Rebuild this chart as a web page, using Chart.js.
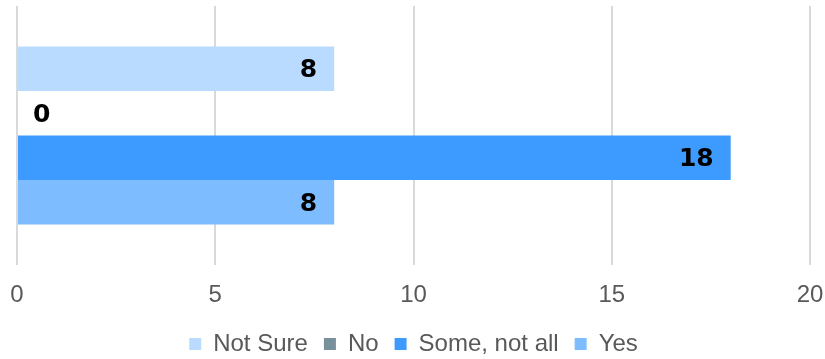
<!DOCTYPE html>
<html>
<head>
<meta charset="utf-8">
<script src="https://cdn.jsdelivr.net/npm/chart.js@4/dist/chart.umd.min.js"></script>
<style>
  html, body { margin: 0; padding: 0; background: #fff; }
  #wrap { width: 825px; height: 359px; position: relative; }
</style>
</head>
<body>
<div id="wrap"><canvas id="chart"></canvas></div>
<script>
const categories = ['Responses'];
const seriesNames = ['Not Sure', 'No', 'Some, not all', 'Yes'];
const notSure = [8];
const no = [0];
const someNotAll = [18];
const yes = [8];
const colors = ['#B8DBFF', '#78909C', '#3D9BFF', '#7DBDFF'];
const xTicks = [0, 5, 10, 15, 20];

// etiquettes de valeur au bout des barres
const valueLabels = {
    id: 'valueLabels',
    afterDatasetsDraw(chart) {
        const ctx = chart.ctx;
        ctx.save();
        ctx.font = 'bold 25px "DejaVu Sans"';
        ctx.fillStyle = '#000';
        ctx.textBaseline = 'middle';
        chart.data.datasets.forEach((ds, i) => {
            chart.getDatasetMeta(i).data.forEach((bar, j) => {
                const v = ds.data[j];
                if (v === 0) {
                    ctx.textAlign = 'left';
                    ctx.fillText(v, bar.base + 16, bar.y + 2);
                } else {
                    ctx.textAlign = 'right';
                    ctx.fillText(v, bar.x - 17, bar.y + 2);
                }
            });
        });
        ctx.restore();
    }
};

const seriesData = [notSure, no, someNotAll, yes];

new Chart(document.getElementById('chart'), {
    type: 'bar',
    data: {
        labels: categories,
        datasets: seriesNames.map((name, i) => ({
            label: name,
            data: seriesData[i],
            backgroundColor: colors[i],
            borderWidth: 0,
            inflateAmount: 0
        }))
    },
    options: {
        indexAxis: 'y',
        responsive: true,
        maintainAspectRatio: false,
        animation: false,
        layout: { padding: { left: 17, right: 15, top: 6, bottom: -7 } },
        datasets: { bar: { barThickness: 44.5 } },
        scales: {
            x: {
                min: 0,
                max: 20,
                afterBuildTicks: axis => { axis.ticks = xTicks.map(v => ({ value: v })); },
                afterFit: axis => {
                    axis.paddingLeft = 0;
                    axis.paddingRight = 0;
                    axis.height = 51;
                },
                grid: { color: '#D9D9D9', lineWidth: 2, drawTicks: false },
                border: { display: false },
                ticks: {
                    color: '#595959',
                    padding: 16,
                    maxRotation: 0,
                    font: { family: '"Liberation Sans", Arial', size: 24 }
                }
            },
            y: { display: false }
        },
        plugins: {
            legend: {
                position: 'bottom',
                labels: {
                    boxWidth: 12,
                    boxHeight: 12,
                    padding: 16,
                    color: '#595959',
                    font: { family: '"Liberation Sans", Arial', size: 24 }
                }
            },
            tooltip: { enabled: false }
        }
    },
    plugins: [valueLabels]
});
</script>
</body>
</html>
